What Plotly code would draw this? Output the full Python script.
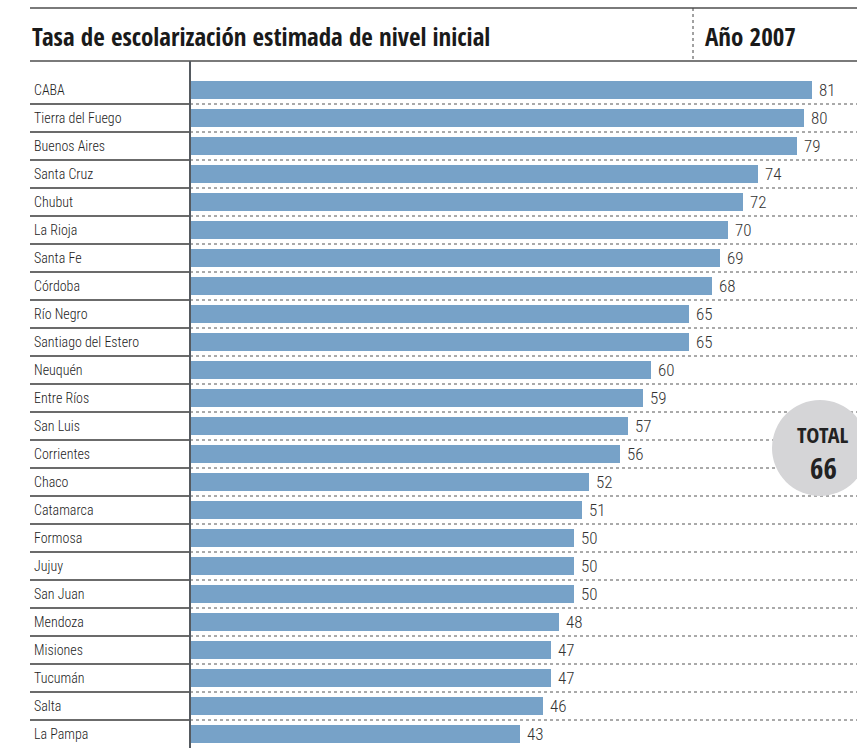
import plotly.graph_objects as go

provincias = ["CABA", "Tierra del Fuego", "Buenos Aires", "Santa Cruz", "Chubut", "La Rioja",
              "Santa Fe", "Córdoba", "Río Negro", "Santiago del Estero", "Neuquén", "Entre Ríos",
              "San Luis", "Corrientes", "Chaco", "Catamarca", "Formosa", "Jujuy", "San Juan",
              "Mendoza", "Misiones", "Tucumán", "Salta", "La Pampa"]
tasas = [81, 80, 79, 74, 72, 70, 69, 68, 65, 65, 60, 59, 57, 56, 52, 51, 50, 50, 50, 48, 47, 47, 46, 43]
total = 66
titulo = "Tasa de escolarización estimada de nivel inicial"
anio = "Año 2007"

BOLD = "'Open Sans Condensed', 'Roboto Condensed', sans-serif"
LIGHT = "'Roboto Condensed', sans-serif"

W, H = 857, 748
L, T = 190, 61
PW, PH = W - L, H - T
ROW = 28.0

def px_x(p):
    return (p - L) / PW

def px_y(p):
    return 1 + (T - p) / PH

fig = go.Figure(go.Bar(
    x=tasas, y=provincias, orientation="h",
    marker=dict(color="#77a2c8", line=dict(width=0)),
    width=0.64, hoverinfo="skip",
))

n = len(provincias)
shapes = []
annotations = []

for i in range(n - 1):
    shapes.append(dict(type="line", xref="paper", yref="y", x0=px_x(30), x1=0,
                       y0=i + 0.5, y1=i + 0.5, line=dict(color="#3a3a3a", width=1.5)))
    shapes.append(dict(type="line", xref="paper", yref="y", x0=0, x1=1,
                       y0=i + 0.5, y1=i + 0.5, line=dict(color="#555555", width=1, dash="dot")))

for i, (p, v) in enumerate(zip(provincias, tasas)):
    annotations.append(dict(text=p, xref="paper", yref="y", x=px_x(32), y=i,
                            xanchor="left", yanchor="middle", showarrow=False,
                            font=dict(family=LIGHT, size=14, weight=300, color="#222222")))
    annotations.append(dict(text=str(v), xref="x", yref="y", x=v, y=i, xshift=5,
                            xanchor="left", yanchor="middle", showarrow=False,
                            font=dict(family=LIGHT, size=17, weight=300, color="#333333")))

# header lines
shapes.append(dict(type="line", xref="paper", yref="paper", x0=px_x(30), x1=1,
                   y0=px_y(8), y1=px_y(8), line=dict(color="#7a7a7a", width=2)))
shapes.append(dict(type="line", xref="paper", yref="paper", x0=px_x(30), x1=1,
                   y0=px_y(61), y1=px_y(61), line=dict(color="#7a7a7a", width=2)))
shapes.append(dict(type="line", xref="paper", yref="paper", x0=px_x(693), x1=px_x(693),
                   y0=px_y(8), y1=px_y(61), line=dict(color="#444444", width=1, dash="dot")))
# axis line
shapes.append(dict(type="line", xref="paper", yref="paper", x0=0, x1=0,
                   y0=0, y1=1, line=dict(color="#555a60", width=2)))
# total circle
cx, cy, r = 820, 448, 48
shapes.append(dict(type="circle", xref="paper", yref="paper",
                   x0=px_x(cx - r), x1=px_x(cx + r), y0=px_y(cy + r), y1=px_y(cy - r),
                   fillcolor="#d5d5d7", line=dict(width=0)))

annotations.append(dict(text="<b>" + titulo + "</b>", xref="paper", yref="paper",
                        x=px_x(30), y=px_y(36), xanchor="left", yanchor="middle", showarrow=False,
                        font=dict(family=BOLD, size=25, color="#1a1a1a")))
annotations.append(dict(text="<b>" + anio + "</b>", xref="paper", yref="paper",
                        x=px_x(703), y=px_y(36), xanchor="left", yanchor="middle", showarrow=False,
                        font=dict(family=BOLD, size=25, color="#1a1a1a")))
annotations.append(dict(text="<b>TOTAL</b>", xref="paper", yref="paper",
                        x=px_x(823), y=px_y(434), xanchor="center", yanchor="middle", showarrow=False,
                        font=dict(family=BOLD, size=22, color="#222222")))
annotations.append(dict(text="<b>" + str(total) + "</b>", xref="paper", yref="paper",
                        x=px_x(823), y=px_y(467), xanchor="center", yanchor="middle", showarrow=False,
                        font=dict(family=BOLD, size=29, color="#222222")))

fig.update_layout(
    width=W, height=H,
    margin=dict(l=L, r=0, t=T, b=0),
    paper_bgcolor="white", plot_bgcolor="white",
    showlegend=False,
    bargap=0,
    xaxis=dict(range=[0, PW / 7.68], showgrid=False, zeroline=False, showticklabels=False,
               ticks="", showline=False, fixedrange=True),
    yaxis=dict(type="category", categoryorder="array", categoryarray=provincias,
               range=[n - 0.5, -29 / ROW],
               showgrid=False, zeroline=False,
               showticklabels=False, ticks="", showline=False, fixedrange=True),
    shapes=shapes, annotations=annotations,
)

fig.write_html("out.html", config={"displayModeBar": False},
               post_script="document.body.style.margin='0';document.body.style.overflow='hidden';")
